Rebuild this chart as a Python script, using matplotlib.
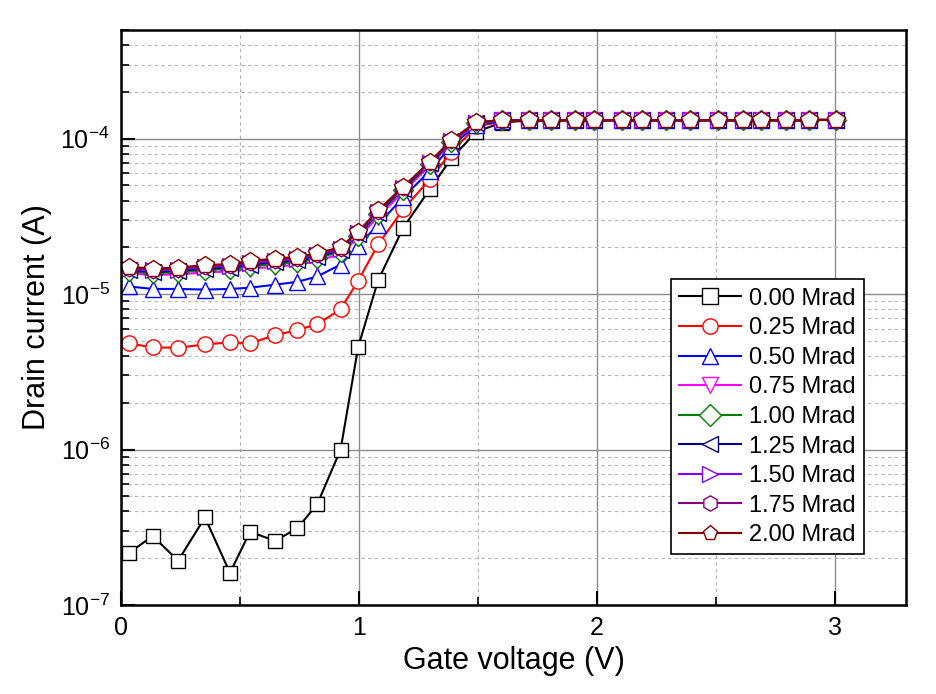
import numpy as np
import matplotlib
matplotlib.use("Agg")
import matplotlib.pyplot as plt
from matplotlib.ticker import LogLocator, MultipleLocator, FixedLocator

plt.rcParams['font.family'] = ['Liberation Sans', 'DejaVu Sans']
plt.rcParams['mathtext.default'] = 'regular'

# gate voltage (V)
vg = [0.035, 0.133, 0.240, 0.353, 0.458, 0.542, 0.647, 0.741, 0.825, 0.923,
      0.997, 1.081, 1.186, 1.298, 1.389, 1.494, 1.602, 1.715, 1.809, 1.908,
      1.989, 2.108, 2.192, 2.293, 2.391, 2.510, 2.615, 2.692, 2.797, 2.892, 3.007]

# saturation part is the same for every dose
sat = [1.31e-4, 1.31e-4, 1.32e-4, 1.31e-4, 1.32e-4, 1.31e-4, 1.32e-4,
       1.31e-4, 1.32e-4, 1.31e-4, 1.32e-4, 1.31e-4, 1.32e-4, 1.32e-4]

i_000 = [2.17e-7, 2.78e-7, 1.93e-7, 3.66e-7, 1.61e-7, 2.96e-7, 2.59e-7, 3.11e-7,
         4.46e-7, 1.00e-6, 4.58e-6, 1.23e-5, 2.67e-5, 4.73e-5, 7.47e-5, 1.11e-4,
         1.27e-4] + sat
i_025 = [4.82e-6, 4.54e-6, 4.52e-6, 4.75e-6, 4.89e-6, 4.82e-6, 5.45e-6, 5.86e-6,
         6.41e-6, 7.98e-6, 1.22e-5, 2.09e-5, 3.51e-5, 5.47e-5, 8.22e-5, 1.20e-4,
         1.29e-4] + sat
i_050 = [1.12e-5, 1.08e-5, 1.08e-5, 1.07e-5, 1.08e-5, 1.10e-5, 1.15e-5, 1.20e-5,
         1.30e-5, 1.55e-5, 2.05e-5, 2.80e-5, 4.20e-5, 6.20e-5, 9.00e-5, 1.22e-4,
         1.30e-4] + sat
i_075 = [1.36e-5, 1.33e-5, 1.34e-5, 1.38e-5, 1.40e-5, 1.46e-5, 1.50e-5, 1.55e-5,
         1.63e-5, 1.82e-5, 2.30e-5, 3.15e-5, 4.55e-5, 6.70e-5, 9.40e-5, 1.25e-4,
         1.31e-4] + sat
i_100 = [1.40e-5, 1.37e-5, 1.38e-5, 1.43e-5, 1.45e-5, 1.51e-5, 1.56e-5, 1.61e-5,
         1.70e-5, 1.88e-5, 2.38e-5, 3.28e-5, 4.70e-5, 6.85e-5, 9.55e-5, 1.26e-4,
         1.31e-4] + sat
i_125 = [1.42e-5, 1.39e-5, 1.41e-5, 1.46e-5, 1.48e-5, 1.55e-5, 1.60e-5, 1.65e-5,
         1.74e-5, 1.92e-5, 2.42e-5, 3.35e-5, 4.78e-5, 6.95e-5, 9.65e-5, 1.27e-4,
         1.31e-4] + sat
i_150 = [1.45e-5, 1.42e-5, 1.44e-5, 1.50e-5, 1.52e-5, 1.59e-5, 1.64e-5, 1.69e-5,
         1.78e-5, 1.96e-5, 2.46e-5, 3.40e-5, 4.84e-5, 7.02e-5, 9.72e-5, 1.27e-4,
         1.31e-4] + sat
i_175 = [1.48e-5, 1.44e-5, 1.46e-5, 1.52e-5, 1.54e-5, 1.62e-5, 1.67e-5, 1.72e-5,
         1.81e-5, 1.99e-5, 2.50e-5, 3.44e-5, 4.88e-5, 7.06e-5, 9.76e-5, 1.28e-4,
         1.31e-4] + sat
i_200 = [1.50e-5, 1.46e-5, 1.48e-5, 1.54e-5, 1.56e-5, 1.64e-5, 1.69e-5, 1.74e-5,
         1.83e-5, 2.01e-5, 2.52e-5, 3.47e-5, 4.90e-5, 7.10e-5, 9.80e-5, 1.28e-4,
         1.31e-4] + sat

labels = ['0.00 Mrad', '0.25 Mrad', '0.50 Mrad', '0.75 Mrad', '1.00 Mrad',
          '1.25 Mrad', '1.50 Mrad', '1.75 Mrad', '2.00 Mrad']
series = [i_000, i_025, i_050, i_075, i_100, i_125, i_150, i_175, i_200]
colors = ['black', 'red', 'blue', '#ff00ff', '#008000', '#000080',
          '#8000ff', '#800080', '#800000']
markers = ['s', 'o', '^', 'v', 'D', '<', '>', 'h', 'p']
msizes = [10, 11, 12, 12, 10, 12, 12, 12, 13]

fig = plt.figure(figsize=(9.36, 6.94), dpi=100)
ax = fig.add_axes([0.1293, 0.1282, 0.8387, 0.8285])

for y, lab, c, m, ms in zip(series, labels, colors, markers, msizes):
    ax.plot(vg, y, color=c, lw=1.5, marker=m, ms=ms, mfc='white', mec=c,
            mew=1.0, label=lab)

ax.set_yscale('log')
ax.set_xlim(0, 3.3)
ax.set_ylim(1e-7, 5e-4)

ax.xaxis.set_major_locator(FixedLocator([0, 1, 2, 3]))
ax.set_xticklabels(['0', '1', '2', '3'])
ax.xaxis.set_minor_locator(MultipleLocator(0.5))
ax.yaxis.set_major_locator(LogLocator(base=10, numticks=10))
ax.yaxis.set_minor_locator(LogLocator(base=10, subs=np.arange(2, 10), numticks=20))

ax.grid(True, which='major', color='#8c8c8c', lw=1.0, ls='-')
ax.grid(True, which='minor', color='#b4b4b4', lw=0.8, ls=(0, (3, 3)))
ax.set_axisbelow(True)

ax.tick_params(which='major', direction='in', length=10, width=1.5,
               labelsize=18, pad=8)
ax.tick_params(which='minor', direction='in', length=6, width=1.2)
for s in ax.spines.values():
    s.set_linewidth(1.8)

ax.set_xlabel('Gate voltage (V)', fontsize=22, labelpad=4)
ax.set_ylabel('Drain current (A)', fontsize=22, labelpad=6)

leg = ax.legend(loc='lower right', bbox_to_anchor=(0.946, 0.088), fontsize=17,
                frameon=True, fancybox=False, edgecolor='black', framealpha=1,
                handlelength=2.6, labelspacing=0.32, borderpad=0.35,
                handletextpad=0.35, borderaxespad=0)
leg.get_frame().set_linewidth(1.2)
for h in leg.legend_handles:
    h.set_markersize(11)

fig.savefig('out.png', dpi=100)
